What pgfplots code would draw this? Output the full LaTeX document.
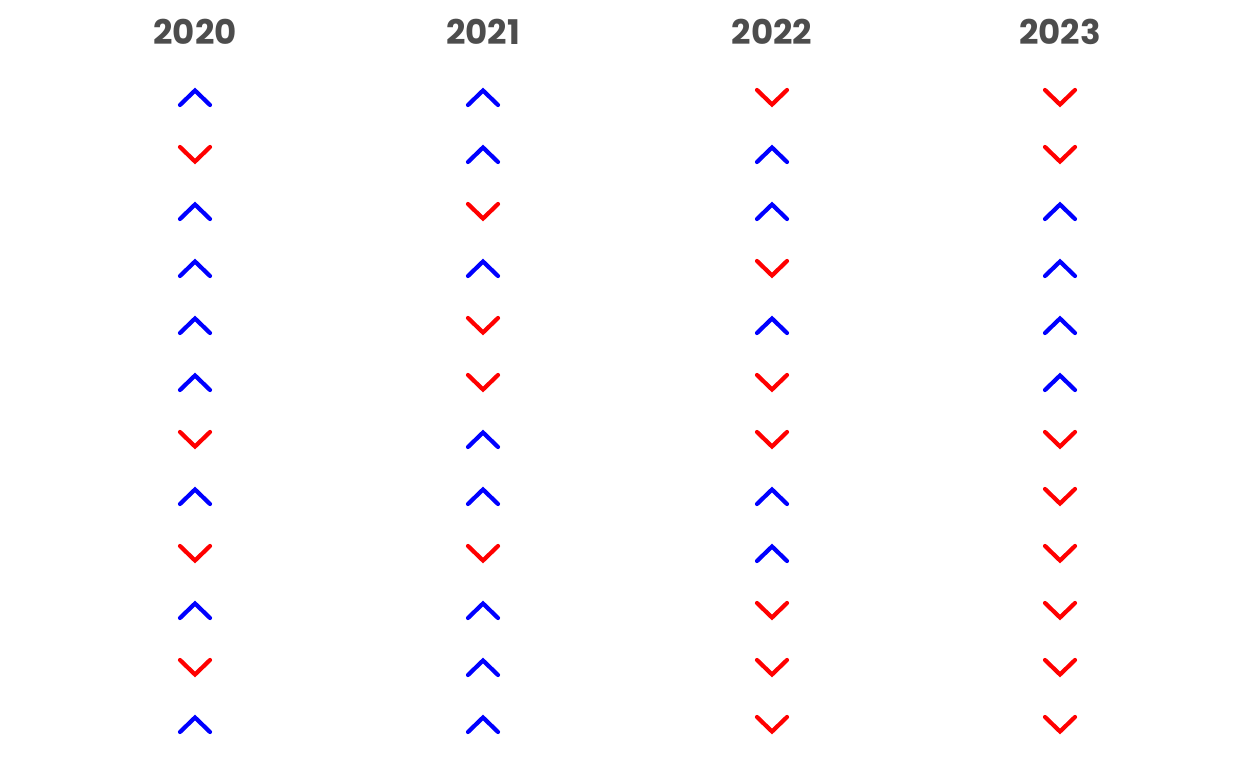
\documentclass[border=0pt]{standalone}
\usepackage{fontspec}
\setmainfont{Poppins}
\usepackage{pgfplots}
\pgfplotsset{compat=1.18}
\definecolor{titlegray}{HTML}{4D4D4D}
\pgfdeclareplotmark{chevup}{%
  \pgfpathmoveto{\pgfqpoint{-15pt}{-7pt}}%
  \pgfpathlineto{\pgfqpoint{0pt}{7.5pt}}%
  \pgfpathlineto{\pgfqpoint{15pt}{-7pt}}%
  \pgfusepathqstroke}
\pgfdeclareplotmark{chevdown}{%
  \pgfpathmoveto{\pgfqpoint{-15pt}{7pt}}%
  \pgfpathlineto{\pgfqpoint{0pt}{-7.5pt}}%
  \pgfpathlineto{\pgfqpoint{15pt}{7pt}}%
  \pgfusepathqstroke}
% x = column centre, y = row centre (pixels from top)
\pgfplotstableread{
x y
195 98
195 212
195 269
195 326
195 383
195 497
195 611
195 725
483 98
483 155
483 269
483 440
483 497
483 611
483 668
483 725
772 155
772 212
772 326
772 497
772 554
1060 212
1060 269
1060 326
1060 383
}\uptable
\pgfplotstableread{
x y
195 154
195 439
195 553
195 667
483 211
483 325
483 382
483 553
772 97
772 268
772 382
772 439
772 610
772 667
772 724
1060 97
1060 154
1060 439
1060 496
1060 553
1060 610
1060 667
1060 724
}\downtable
\begin{document}
\begin{tikzpicture}
\begin{axis}[
  width=1248pt, height=768pt, scale only axis,
  xmin=0, xmax=1248, ymin=0, ymax=768, y dir=reverse,
  axis lines=none, clip=false,
]
\path (rel axis cs:0,0) rectangle (rel axis cs:1,1);
\addplot[only marks, mark=chevup, mark options={draw={rgb,255:red,0;green,0;blue,255}, line width=4.2pt, line cap=round, line join=miter}] table[x=x,y=y] {\uptable};
\addplot[only marks, mark=chevdown, mark options={draw={rgb,255:red,255;green,0;blue,0}, line width=4.2pt, line cap=round, line join=miter}] table[x=x,y=y] {\downtable};
\foreach \xx/\lab in {195/2020, 483/2021, 772/2022, 1060/2023} {
  \edef\tmp{\noexpand\node[text=titlegray, font=\noexpand\fontsize{34}{40}\noexpand\selectfont\noexpand\bfseries] at (axis cs:\xx,32) {\lab};}
  \tmp
}
\end{axis}
\end{tikzpicture}
\end{document}
